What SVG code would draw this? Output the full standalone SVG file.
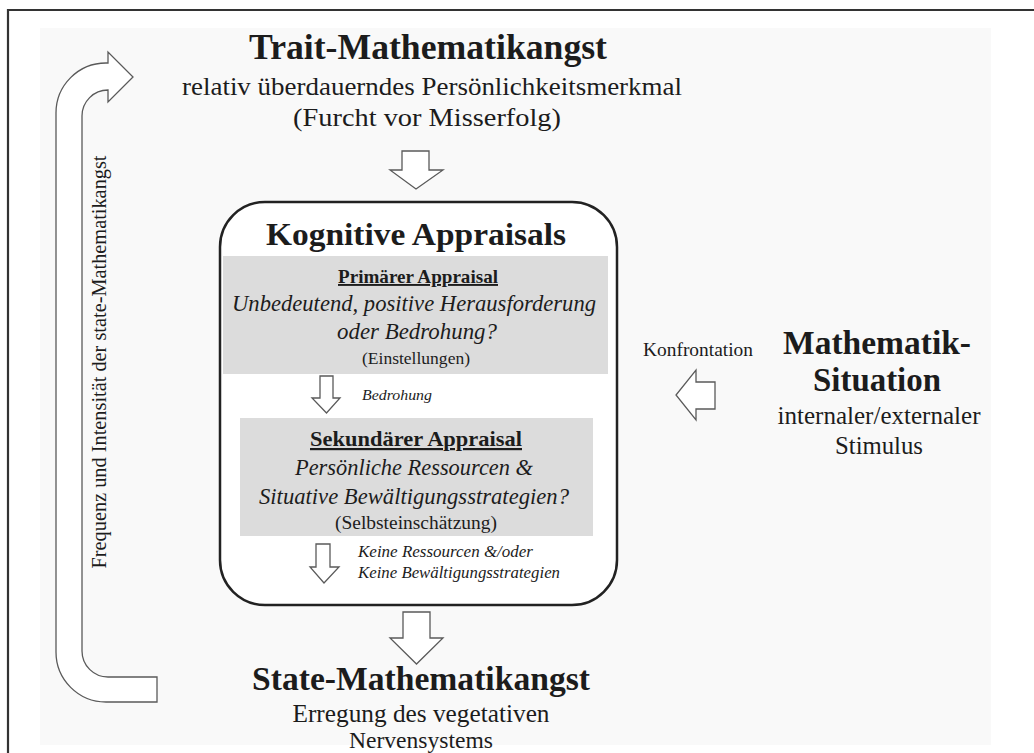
<svg xmlns="http://www.w3.org/2000/svg" width="1034" height="753" viewBox="0 0 1034 753">
<style>
text{font-family:"Liberation Serif","Times New Roman",serif;fill:#1c1c1c}
.b{font-weight:bold}
.i{font-style:italic}
.u{text-decoration:underline}
.c{text-anchor:middle}
.arr{fill:#ffffff;stroke:#5a5a5a;stroke-width:1.3;stroke-linejoin:miter}
</style>
<rect x="0" y="0" width="1034" height="753" fill="#ffffff"/>
<rect x="40" y="28" width="951" height="717" fill="#f9f9f9"/>
<path d="M8,753 V10 H1034" fill="none" stroke="#333" stroke-width="2.2"/>

<g id="trait">
<text x="428" y="59" class="b c" font-size="35" textLength="358" lengthAdjust="spacingAndGlyphs">Trait-Mathematikangst</text>
<text x="432" y="95" class="c" font-size="26" textLength="500" lengthAdjust="spacingAndGlyphs">relativ überdauerndes Persönlichkeitsmerkmal</text>
<text x="427" y="126" class="c" font-size="26" textLength="268" lengthAdjust="spacingAndGlyphs">(Furcht vor Misserfolg)</text>
</g>

<g id="appraisals">
<rect x="220" y="202" width="397" height="403" rx="45" ry="45" fill="#ffffff" stroke="#222" stroke-width="2.5"/>
<text x="416" y="245" class="b c" font-size="32" textLength="300" lengthAdjust="spacingAndGlyphs">Kognitive Appraisals</text>
</g>

<g id="primary">
<rect x="223" y="256" width="385" height="118" fill="#dcdcdc"/>
<text x="418" y="283" class="b c u" font-size="19" textLength="160" lengthAdjust="spacingAndGlyphs">Primärer Appraisal</text>
<text x="414" y="311" class="i c" font-size="22.5" textLength="364" lengthAdjust="spacingAndGlyphs">Unbedeutend, positive Herausforderung</text>
<text x="417" y="339" class="i c" font-size="22.5" textLength="160" lengthAdjust="spacingAndGlyphs">oder Bedrohung?</text>
<text x="416" y="364" class="c" font-size="17.5" textLength="108" lengthAdjust="spacingAndGlyphs">(Einstellungen)</text>
</g>

<g id="secondary">
<rect x="240" y="418" width="353" height="118" fill="#dcdcdc"/>
<text x="416" y="446" class="b c u" font-size="22" textLength="212" lengthAdjust="spacingAndGlyphs">Sekundärer Appraisal</text>
<text x="414" y="475" class="i c" font-size="22.5" textLength="238" lengthAdjust="spacingAndGlyphs">Persönliche Ressourcen &amp;</text>
<text x="414" y="504" class="i c" font-size="22.5" textLength="310" lengthAdjust="spacingAndGlyphs">Situative Bewältigungsstrategien?</text>
<text x="416" y="529" class="c" font-size="19.5" textLength="162" lengthAdjust="spacingAndGlyphs">(Selbsteinschätzung)</text>
</g>

<g id="state">
<text x="421" y="690" class="b c" font-size="33.5" textLength="338" lengthAdjust="spacingAndGlyphs">State-Mathematikangst</text>
<text x="421" y="722" class="c" font-size="24.5" textLength="257" lengthAdjust="spacingAndGlyphs">Erregung des vegetativen</text>
<text x="421" y="748" class="c" font-size="24" textLength="144" lengthAdjust="spacingAndGlyphs">Nervensystems</text>
</g>

<g id="situation">
<text x="877" y="354" class="b c" font-size="33" textLength="188" lengthAdjust="spacingAndGlyphs">Mathematik-</text>
<text x="877" y="391" class="b c" font-size="33" textLength="128" lengthAdjust="spacingAndGlyphs">Situation</text>
<text x="879" y="424" class="c" font-size="24.5" textLength="203" lengthAdjust="spacingAndGlyphs">internaler/externaler</text>
<text x="879" y="454" class="c" font-size="24.5" textLength="88" lengthAdjust="spacingAndGlyphs">Stimulus</text>
</g>

<g id="connectors">
<path class="arr" d="M157,702 H106 A50,50 0 0 1 56,652 V113 A50,50 0 0 1 106,63 H108 V52 L133,77 L108,102 V90 A26,26 0 0 0 82,116 V651 A26,26 0 0 0 108,677 H157 Z"/>
<path class="arr" d="M402,151 H429 V170 H443 L416,189 L390,170 H402 Z"/>
<path class="arr" d="M320,376 H333 V398 H340 L326.5,413 L312,398 H320 Z"/>
<path class="arr" d="M316,544 H330 V567 H339 L324,583 L310,567 H316 Z"/>
<path class="arr" d="M403,612 H430 V638 H443 L416.5,664 L390,638 H403 Z"/>
<path class="arr" d="M715,382 V409 H696 V420 L676,395 L696,370 V382 Z"/>
<text x="362" y="400" class="i" font-size="15.5" textLength="70" lengthAdjust="spacingAndGlyphs">Bedrohung</text>
<text x="358" y="557" class="i" font-size="16.5" textLength="175" lengthAdjust="spacingAndGlyphs">Keine Ressourcen &amp;/oder</text>
<text x="358" y="578" class="i" font-size="16.5" textLength="202" lengthAdjust="spacingAndGlyphs">Keine Bewältigungsstrategien</text>
<text x="643" y="356" font-size="19" textLength="110" lengthAdjust="spacingAndGlyphs">Konfrontation</text>
<text transform="translate(106,362) rotate(-90)" class="c" font-size="20" textLength="413" lengthAdjust="spacingAndGlyphs">Frequenz und Intensität der state-Mathematikangst</text>
</g>
</svg>
